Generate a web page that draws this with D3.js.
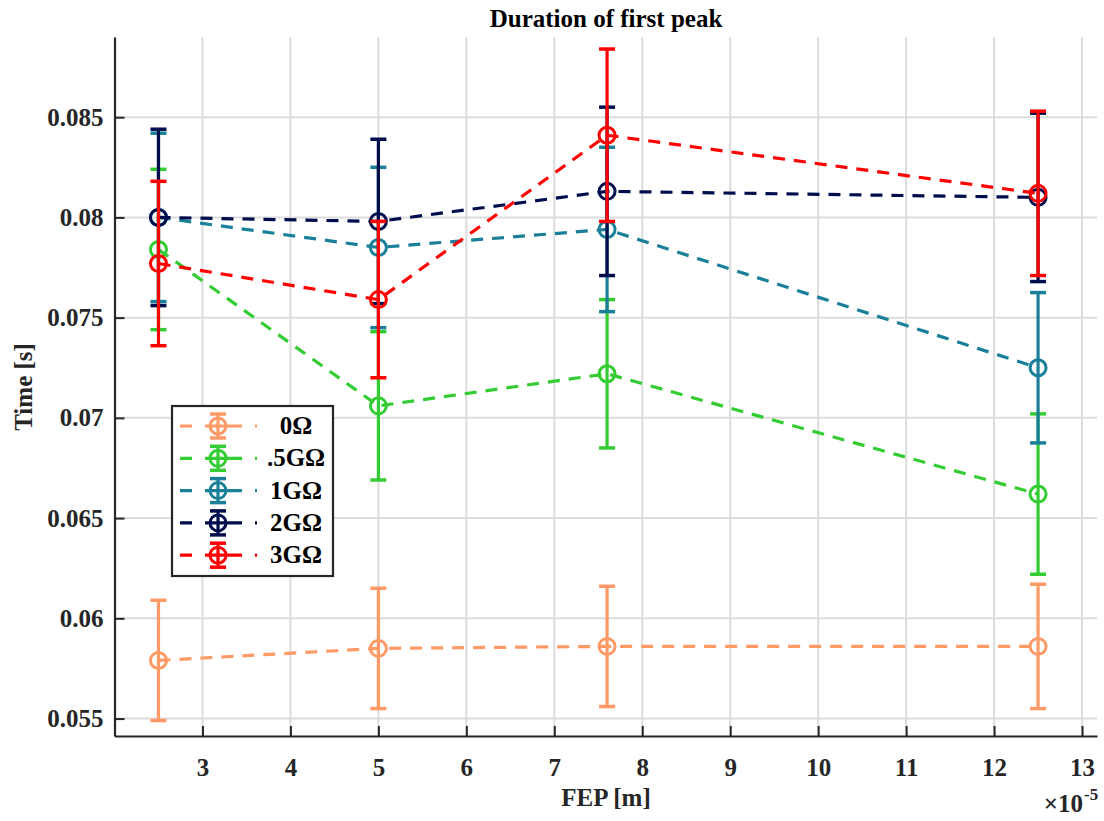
<!DOCTYPE html>
<html>
<head>
<meta charset="utf-8">
<script src="https://cdn.jsdelivr.net/npm/d3@7"></script>
<style>
body { margin: 0; background: #fff; }
text { font-family: "Liberation Serif", "Times New Roman", serif; font-weight: bold; }
</style>
</head>
<body>
<div id="chart"></div>
<script>
// FEP values (x 1e-5 m)
var fep = [2.5, 5, 7.6, 12.5];
var names = ["0Ω", ".5GΩ", "1GΩ", "2GΩ", "3GΩ"];
var colors = ["#ff9966", "#33cc33", "#1a8099", "#000d4d", "#ff0000"];

var mean0 = [0.0579, 0.0585, 0.0586, 0.0586];
var err0 = [0.0030, 0.0030, 0.0030, 0.0031];
var mean05 = [0.0784, 0.0706, 0.0722, 0.0662];
var err05 = [0.0040, 0.0037, 0.0037, 0.0040];
var mean1 = [0.0800, 0.0785, 0.0794, 0.0725];
var err1 = [0.0042, 0.0040, 0.0041, 0.00375];
var mean2 = [0.0800, 0.0798, 0.0813, 0.0810];
var err2 = [0.0044, 0.0041, 0.0042, 0.0042];
var mean3 = [0.0777, 0.0759, 0.0841, 0.0812];
var err3 = [0.0041, 0.0039, 0.0043, 0.0041];

var xTicks = [3, 4, 5, 6, 7, 8, 9, 10, 11, 12, 13];
var yTicks = [0.055, 0.06, 0.065, 0.07, 0.075, 0.08, 0.085];

var means = [mean0, mean05, mean1, mean2, mean3];
var errs = [err0, err05, err1, err2, err3];

var W = 1104, H = 821;
var x = d3.scaleLinear().domain([2, 13.17]).range([114.5, 1097]);
var y = d3.scaleLinear().domain([0.05413, 0.089]).range([736, 37]);

var svg = d3.select("#chart").append("svg")
	.attr("width", W)
	.attr("height", H);

// grid
svg.append("g").selectAll("line").data(xTicks).enter().append("line")
	.attr("x1", function(d) { return x(d); })
	.attr("x2", function(d) { return x(d); })
	.attr("y1", y.range()[1])
	.attr("y2", y.range()[0])
	.attr("stroke", "#dcdcdc")
	.attr("stroke-width", 2);
svg.append("g").selectAll("line").data(yTicks).enter().append("line")
	.attr("x1", x.range()[0])
	.attr("x2", x.range()[1])
	.attr("y1", function(d) { return y(d); })
	.attr("y2", function(d) { return y(d); })
	.attr("stroke", "#dcdcdc")
	.attr("stroke-width", 2);

// axes, ticks inside
var xAxis = svg.append("g")
	.attr("transform", "translate(0," + y.range()[0] + ")")
	.call(d3.axisBottom(x).tickValues(xTicks).tickFormat(d3.format("d")).tickSizeInner(-10).tickSizeOuter(0).tickPadding(22));
var yAxis = svg.append("g")
	.attr("transform", "translate(" + x.range()[0] + ",0)")
	.call(d3.axisLeft(y).tickValues(yTicks).tickFormat(function(d) { return String(+d.toFixed(3)); }).tickSizeInner(-10).tickSizeOuter(0).tickPadding(11));

[xAxis, yAxis].forEach(function(a) {
	a.select(".domain").attr("stroke", "#262626").attr("stroke-width", 2.2);
	a.selectAll(".tick line").attr("stroke", "#262626").attr("stroke-width", 2);
	a.selectAll(".tick text").attr("font-size", "25px").attr("fill", "#262626")
		.attr("font-family", "'Liberation Serif', serif").attr("font-weight", "bold");
});

// series
var line = d3.line()
	.x(function(d) { return x(d[0]); })
	.y(function(d) { return y(d[1]); });

names.forEach(function(name, i) {
	var pts = fep.map(function(f, j) { return [f, means[i][j], errs[i][j]]; });
	var g = svg.append("g");
	g.append("path")
		.attr("d", line(pts))
		.attr("fill", "none")
		.attr("stroke", colors[i])
		.attr("stroke-width", 3.2)
		.attr("stroke-dasharray", "12,9");
	var eb = g.selectAll(".eb").data(pts).enter().append("g");
	eb.append("line")
		.attr("x1", function(d) { return x(d[0]); })
		.attr("x2", function(d) { return x(d[0]); })
		.attr("y1", function(d) { return y(d[1] + d[2]); })
		.attr("y2", function(d) { return y(d[1] - d[2]); })
		.attr("stroke", colors[i]).attr("stroke-width", 3.2);
	[1, -1].forEach(function(s) {
		eb.append("line")
			.attr("x1", function(d) { return x(d[0]) - 8; })
			.attr("x2", function(d) { return x(d[0]) + 8; })
			.attr("y1", function(d) { return y(d[1] + s * d[2]); })
			.attr("y2", function(d) { return y(d[1] + s * d[2]); })
			.attr("stroke", colors[i]).attr("stroke-width", 3.5);
	});
	g.selectAll("circle").data(pts).enter().append("circle")
		.attr("cx", function(d) { return x(d[0]); })
		.attr("cy", function(d) { return y(d[1]); })
		.attr("r", 8)
		.attr("fill", "none")
		.attr("stroke", colors[i])
		.attr("stroke-width", 3);
});

// title and labels
svg.append("text").attr("x", 606).attr("y", 27).attr("text-anchor", "middle")
	.attr("font-size", "25px").attr("fill", "#000").text("Duration of first peak");
svg.append("text").attr("x", 606).attr("y", 806).attr("text-anchor", "middle")
	.attr("font-size", "25px").attr("fill", "#262626").text("FEP [m]");
svg.append("text").attr("transform", "translate(32,387) rotate(-90)").attr("text-anchor", "middle")
	.attr("font-size", "25px").attr("fill", "#262626").text("Time [s]");
svg.append("text").attr("x", 1083).attr("y", 812).attr("text-anchor", "end")
	.attr("font-size", "25px").attr("fill", "#262626").attr("font-weight", "normal").text("×10");
svg.append("text").attr("x", 1084).attr("y", 800)
	.attr("font-size", "17px").attr("fill", "#262626").attr("font-weight", "normal").text("-5");

// legend
var leg = svg.append("g");
leg.append("rect").attr("x", 172).attr("y", 406).attr("width", 161).attr("height", 170)
	.attr("fill", "#fff").attr("stroke", "#262626").attr("stroke-width", 2.2);
names.forEach(function(name, i) {
	var cy = 426 + i * 32.3;
	var c = colors[i];
	leg.append("line").attr("x1", 180).attr("x2", 257).attr("y1", cy).attr("y2", cy)
		.attr("stroke", c).attr("stroke-width", 3.2).attr("stroke-dasharray", "12,13,37,13,2,100");
	leg.append("line").attr("x1", 218).attr("x2", 218).attr("y1", cy - 12).attr("y2", cy + 12)
		.attr("stroke", c).attr("stroke-width", 3.2);
	[-12, 12].forEach(function(o) {
		leg.append("line").attr("x1", 210).attr("x2", 226).attr("y1", cy + o).attr("y2", cy + o)
			.attr("stroke", c).attr("stroke-width", 3.5);
	});
	leg.append("circle").attr("cx", 218).attr("cy", cy).attr("r", 8)
		.attr("fill", "none").attr("stroke", c).attr("stroke-width", 3);
	leg.append("text").attr("x", 296).attr("y", cy + 8).attr("text-anchor", "middle")
		.attr("font-size", "25px").attr("fill", "#000").text(name);
});
</script>
</body>
</html>
